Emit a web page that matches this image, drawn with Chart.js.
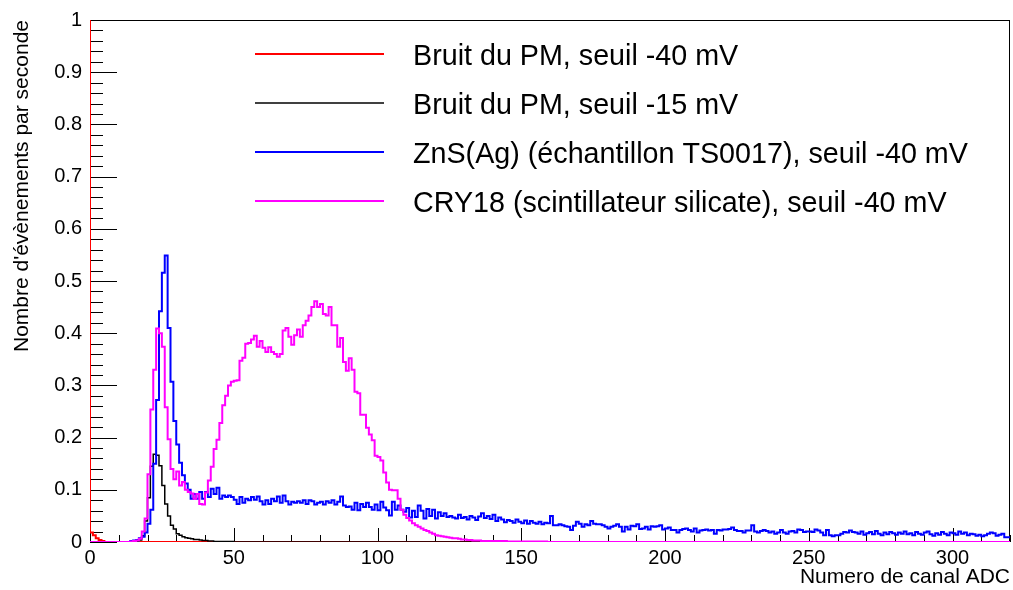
<!DOCTYPE html>
<html>
<head>
<meta charset="utf-8">
<script src="https://cdn.jsdelivr.net/npm/chart.js@4.4.1/dist/chart.umd.min.js"></script>
<style>
  body { margin: 0; background: #fff; }
</style>
</head>
<body>
<canvas id="spectre" width="1013" height="590"></canvas>
<script>
// ADC spectra, one value per channel (bin width = 1 channel, 320 channels)
const xTickValues = [0, 50, 100, 150, 200, 250, 300];
const xTickLabels = ['0', '50', '100', '150', '200', '250', '300'];
const yTickValues = [0, 0.1, 0.2, 0.3, 0.4, 0.5, 0.6, 0.7, 0.8, 0.9, 1];
const yTickLabels = ['0', '0.1', '0.2', '0.3', '0.4', '0.5', '0.6', '0.7', '0.8', '0.9', '1'];

const seriesLabels = [
  'Bruit du PM, seuil -40 mV',
  'Bruit du PM, seuil -15 mV',
  'ZnS(Ag) (échantillon TS0017), seuil -40 mV',
  'CRY18 (scintillateur silicate), seuil -40 mV'
];

const bruit40 = [
  2.5, 0.018, 0.013, 0.007, 0.004, 0.002, 0, 0, 0, 0, 0, 0, 0, 0, 0, 0, 0, 0, 0, 0,
  0, 0, 0, 0, 0, 0, 0, 0, 0, 0, 0, 0, 0, 0, 0, 0, 0, 0, 0, 0,
  0, 0, 0, 0, 0, 0, 0, 0, 0, 0, 0, 0, 0, 0, 0, 0, 0, 0, 0, 0,
  0, 0, 0, 0, 0, 0, 0, 0, 0, 0, 0, 0, 0, 0, 0, 0, 0, 0, 0, 0,
  0, 0, 0, 0, 0, 0, 0, 0, 0, 0, 0, 0, 0, 0, 0, 0, 0, 0, 0, 0,
  0, 0, 0, 0, 0, 0, 0, 0, 0, 0, 0, 0, 0, 0, 0, 0, 0, 0, 0, 0,
  0, 0, 0, 0, 0, 0, 0, 0, 0, 0, 0, 0, 0, 0, 0, 0, 0, 0, 0, 0,
  0, 0, 0, 0, 0, 0, 0, 0, 0, 0, 0, 0, 0, 0, 0, 0, 0, 0, 0, 0,
  0, 0, 0, 0, 0, 0, 0, 0, 0, 0, 0, 0, 0, 0, 0, 0, 0, 0, 0, 0,
  0, 0, 0, 0, 0, 0, 0, 0, 0, 0, 0, 0, 0, 0, 0, 0, 0, 0, 0, 0,
  0, 0, 0, 0, 0, 0, 0, 0, 0, 0, 0, 0, 0, 0, 0, 0, 0, 0, 0, 0,
  0, 0, 0, 0, 0, 0, 0, 0, 0, 0, 0, 0, 0, 0, 0, 0, 0, 0, 0, 0,
  0, 0, 0, 0, 0, 0, 0, 0, 0, 0, 0, 0, 0, 0, 0, 0, 0, 0, 0, 0,
  0, 0, 0, 0, 0, 0, 0, 0, 0, 0, 0, 0, 0, 0, 0, 0, 0, 0, 0, 0,
  0, 0, 0, 0, 0, 0, 0, 0, 0, 0, 0, 0, 0, 0, 0, 0, 0, 0, 0, 0,
  0, 0, 0, 0, 0, 0, 0, 0, 0, 0, 0, 0, 0, 0, 0, 0, 0, 0, 0, 0
];

const bruit15 = [
  0, 0, 0, 0, 0, 0, 0, 0, 0, 0, 0, 0, 0, 0, 0, 0, 0, 0, 0.004, 0.012,
  0.04, 0.085, 0.145, 0.168, 0.166, 0.146, 0.108, 0.073, 0.05, 0.032, 0.025, 0.016, 0.013, 0.01, 0.008, 0.007, 0.006, 0.005, 0.005, 0.004,
  0.003, 0.003, 0.002, 0.002, 0.001, 0.001, 0.001, 0.001, 0.001, 0.001, 0.001, 0, 0, 0, 0, 0, 0, 0, 0, 0,
  0, 0, 0, 0, 0, 0, 0, 0, 0, 0, 0, 0, 0, 0, 0, 0, 0, 0, 0, 0,
  0, 0, 0, 0, 0, 0, 0, 0, 0, 0, 0, 0, 0, 0, 0, 0, 0, 0, 0, 0,
  0, 0, 0, 0, 0, 0, 0, 0, 0, 0, 0, 0, 0, 0, 0, 0, 0, 0, 0, 0,
  0, 0, 0, 0, 0, 0, 0, 0, 0, 0, 0, 0, 0, 0, 0, 0, 0, 0, 0, 0,
  0, 0, 0, 0, 0, 0, 0, 0, 0, 0, 0, 0, 0, 0, 0, 0, 0, 0, 0, 0,
  0, 0, 0, 0, 0, 0, 0, 0, 0, 0, 0, 0, 0, 0, 0, 0, 0, 0, 0, 0,
  0, 0, 0, 0, 0, 0, 0, 0, 0, 0, 0, 0, 0, 0, 0, 0, 0, 0, 0, 0,
  0, 0, 0, 0, 0, 0, 0, 0, 0, 0, 0, 0, 0, 0, 0, 0, 0, 0, 0, 0,
  0, 0, 0, 0, 0, 0, 0, 0, 0, 0, 0, 0, 0, 0, 0, 0, 0, 0, 0, 0,
  0, 0, 0, 0, 0, 0, 0, 0, 0, 0, 0, 0, 0, 0, 0, 0, 0, 0, 0, 0,
  0, 0, 0, 0, 0, 0, 0, 0, 0, 0, 0, 0, 0, 0, 0, 0, 0, 0, 0, 0,
  0, 0, 0, 0, 0, 0, 0, 0, 0, 0, 0, 0, 0, 0, 0, 0, 0, 0, 0, 0,
  0, 0, 0, 0, 0, 0, 0, 0, 0, 0, 0, 0, 0, 0, 0, 0, 0, 0, 0, 0
];

const znsAg = [
  0, 0, 0, 0, 0, 0, 0, 0, 0, 0, 0, 0, 0, 0, 0, 0.002, 0.003, 0.004, 0.007, 0.01,
  0.018, 0.035, 0.062, 0.15, 0.272, 0.442, 0.516, 0.549, 0.41, 0.307, 0.232, 0.187, 0.152, 0.128, 0.112, 0.1, 0.083, 0.092, 0.083, 0.096,
  0.083, 0.096, 0.086, 0.102, 0.092, 0.104, 0.083, 0.089, 0.086, 0.089, 0.086, 0.081, 0.073, 0.086, 0.075, 0.083, 0.08, 0.086, 0.081, 0.087,
  0.078, 0.072, 0.08, 0.073, 0.083, 0.078, 0.087, 0.075, 0.089, 0.078, 0.072, 0.077, 0.075, 0.078, 0.075, 0.08, 0.073, 0.08, 0.078, 0.072,
  0.075, 0.077, 0.072, 0.078, 0.075, 0.08, 0.072, 0.077, 0.087, 0.07, 0.067, 0.068, 0.062, 0.075, 0.061, 0.073, 0.067, 0.075, 0.067, 0.062,
  0.072, 0.061, 0.077, 0.066, 0.061, 0.051, 0.077, 0.062, 0.07, 0.062, 0.058, 0.065, 0.047, 0.06, 0.048, 0.07, 0.06, 0.045, 0.063, 0.05,
  0.062, 0.045, 0.057, 0.05, 0.055, 0.048, 0.05, 0.047, 0.045, 0.052, 0.046, 0.048, 0.043, 0.05, 0.047, 0.042, 0.049, 0.055, 0.046, 0.05,
  0.044, 0.052, 0.04, 0.047, 0.043, 0.038, 0.042, 0.04, 0.037, 0.043, 0.039, 0.036, 0.041, 0.035, 0.04, 0.037, 0.035, 0.039, 0.034, 0.037,
  0.036, 0.05, 0.032, 0.032, 0.034, 0.032, 0.03, 0.029, 0.023, 0.031, 0.039, 0.035, 0.029, 0.034, 0.032, 0.04, 0.035, 0.034, 0.034, 0.032,
  0.029, 0.026, 0.029, 0.031, 0.034, 0.029, 0.02, 0.029, 0.024, 0.031, 0.03, 0.034, 0.025, 0.026, 0.029, 0.024, 0.03, 0.029, 0.03, 0.032,
  0.024, 0.026, 0.028, 0.023, 0.023, 0.018, 0.023, 0.025, 0.026, 0.023, 0.02, 0.026, 0.018, 0.022, 0.023, 0.024, 0.022, 0.023, 0.016, 0.023,
  0.022, 0.024, 0.024, 0.025, 0.028, 0.023, 0.021, 0.021, 0.018, 0.022, 0.022, 0.032, 0.02, 0.018, 0.021, 0.023, 0.021, 0.018, 0.02, 0.016,
  0.018, 0.023, 0.018, 0.016, 0.02, 0.021, 0.018, 0.024, 0.023, 0.019, 0.02, 0.02, 0.019, 0.024, 0.022, 0.018, 0.013, 0.023, 0.013, 0.011,
  0.013, 0.013, 0.016, 0.019, 0.018, 0.022, 0.019, 0.018, 0.016, 0.02, 0.014, 0.017, 0.019, 0.015, 0.021, 0.016, 0.013, 0.018, 0.015, 0.019,
  0.017, 0.014, 0.018, 0.016, 0.02, 0.015, 0.017, 0.013, 0.019, 0.016, 0.014, 0.018, 0.02, 0.015, 0.012, 0.017, 0.014, 0.019, 0.016, 0.013,
  0.018, 0.017, 0.014, 0.02, 0.016, 0.018, 0.013, 0.016, 0.015, 0.012, 0.014, 0.011, 0.013, 0.016, 0.018, 0.017, 0.012, 0.014, 0.016, 0.009
];

const cry18 = [
  0, 0, 0, 0, 0, 0, 0, 0, 0, 0, 0, 0, 0, 0, 0, 0.001, 0.002, 0.003, 0.006, 0.02,
  0.045, 0.13, 0.254, 0.33, 0.409, 0.4, 0.374, 0.258, 0.197, 0.14, 0.12, 0.135, 0.108, 0.115, 0.1, 0.096, 0.093, 0.083, 0.092, 0.073,
  0.072, 0.095, 0.118, 0.144, 0.178, 0.196, 0.228, 0.262, 0.28, 0.3, 0.307, 0.309, 0.31, 0.347, 0.353, 0.38, 0.381, 0.388, 0.395, 0.374,
  0.385, 0.372, 0.364, 0.373, 0.364, 0.36, 0.355, 0.36, 0.405, 0.41, 0.393, 0.378, 0.396, 0.407, 0.393, 0.415, 0.424, 0.434, 0.45, 0.461,
  0.45, 0.456, 0.437, 0.434, 0.45, 0.415, 0.415, 0.374, 0.391, 0.345, 0.328, 0.352, 0.33, 0.288, 0.285, 0.244, 0.244, 0.219, 0.206, 0.195,
  0.165, 0.163, 0.156, 0.133, 0.114, 0.1, 0.099, 0.099, 0.083, 0.062, 0.052, 0.046, 0.041, 0.036, 0.032, 0.029, 0.026, 0.023, 0.021, 0.018,
  0.016, 0.013, 0.012, 0.011, 0.01, 0.009, 0.008, 0.007, 0.007, 0.006, 0.005, 0.005, 0.004, 0.004, 0.003, 0.003, 0.003, 0.002, 0.002, 0.002,
  0.002, 0.002, 0.002, 0.002, 0.002, 0.002, 0.001, 0.001, 0.001, 0.001, 0.001, 0.001, 0.001, 0.001, 0.001, 0.001, 0.001, 0.001, 0.001, 0.001,
  0, 0, 0, 0, 0, 0, 0, 0, 0, 0, 0, 0, 0, 0, 0, 0, 0, 0, 0, 0,
  0, 0, 0, 0, 0, 0, 0, 0, 0, 0, 0, 0, 0, 0, 0, 0, 0, 0, 0, 0,
  0, 0, 0, 0, 0, 0, 0, 0, 0, 0, 0, 0, 0, 0, 0, 0, 0, 0, 0, 0,
  0, 0, 0, 0, 0, 0, 0, 0, 0, 0, 0, 0, 0, 0, 0, 0, 0, 0, 0, 0,
  0, 0, 0, 0, 0, 0, 0, 0, 0, 0, 0, 0, 0, 0, 0, 0, 0, 0, 0, 0,
  0, 0, 0, 0, 0, 0, 0, 0, 0, 0, 0, 0, 0, 0, 0, 0, 0, 0, 0, 0,
  0, 0, 0, 0, 0, 0, 0, 0, 0, 0, 0, 0, 0, 0, 0, 0, 0, 0, 0, 0,
  0, 0, 0, 0, 0, 0, 0, 0, 0, 0, 0, 0, 0, 0, 0, 0, 0, 0, 0, 0
];

const FONT = '"Liberation Sans", Arial, Helvetica, sans-serif';

// each bin is drawn from its low edge to the next one
function toSteps(values) {
  const pts = values.map((v, i) => ({x: i, y: v}));
  pts.push({x: values.length, y: values[values.length - 1]});
  return pts;
}

function histo(label, values, color, width, order) {
  return {
    label: label,
    data: toSteps(values),
    borderColor: color,
    backgroundColor: color,
    borderWidth: width,
    stepped: 'after',
    pointRadius: 0,
    fill: false,
    order: order
  };
}

// frame + inward tick marks, drawn under the histograms
const frameTicks = {
  id: 'frameTicks',
  beforeDatasetsDraw(chart) {
    const {ctx, chartArea: a, scales: {x, y}} = chart;
    ctx.save();
    ctx.strokeStyle = '#000';
    ctx.lineWidth = 1;
    ctx.strokeRect(a.left + 0.5, a.top + 0.5, a.right - a.left - 1, a.bottom - a.top - 1);
    ctx.beginPath();
    for (let v = 0; v <= 320; v += 10) {
      const px = Math.round(x.getPixelForValue(v)) + 0.5;
      const len = v % 50 === 0 ? 14 : 7;
      ctx.moveTo(px, a.bottom);
      ctx.lineTo(px, a.bottom - len);
    }
    for (let k = 0; k <= 50; k++) {
      const py = Math.round(y.getPixelForValue(k / 50)) + 0.5;
      const len = k % 5 === 0 ? 27 : 13;
      ctx.moveTo(a.left, py);
      ctx.lineTo(a.left + len, py);
    }
    ctx.stroke();
    ctx.restore();
  }
};

// legend without a box, in the upper part of the frame
const histLegend = {
  id: 'histLegend',
  afterDatasetsDraw(chart) {
    const ctx = chart.ctx;
    ctx.save();
    ctx.font = '28.7px ' + FONT;
    ctx.fillStyle = '#000';
    ctx.textBaseline = 'alphabetic';
    chart.data.datasets.forEach((ds, i) => {
      const yy = 54 + i * 49;
      ctx.strokeStyle = ds.borderColor;
      ctx.lineWidth = ds.borderWidth;
      ctx.beginPath();
      ctx.moveTo(255, yy);
      ctx.lineTo(384, yy);
      ctx.stroke();
      ctx.fillText(ds.label, 413, yy + 11);
    });
    ctx.restore();
  }
};

const ctx = document.getElementById('spectre').getContext('2d');

new Chart(ctx, {
  type: 'line',
  data: {
    datasets: [
      histo(seriesLabels[0], bruit40, '#ff0000', 2, 4),
      histo(seriesLabels[1], bruit15, '#000000', 1.5, 3),
      histo(seriesLabels[2], znsAg, '#0000ff', 2, 2),
      histo(seriesLabels[3], cry18, '#ff00ff', 2, 1)
    ]
  },
  options: {
    responsive: false,
    animation: false,
    layout: {padding: {top: 15, right: 3, left: 0, bottom: 0}},
    plugins: {
      legend: {display: false},
      tooltip: {enabled: false}
    },
    scales: {
      x: {
        type: 'linear',
        min: 0,
        max: 320,
        grid: {display: false, drawTicks: false},
        border: {display: false},
        afterBuildTicks: s => { s.ticks = xTickValues.map(v => ({value: v})); },
        afterFit: s => { s.height = 48; },
        ticks: {
          padding: 4,
          maxRotation: 0,
          color: '#000',
          font: {family: FONT, size: 20},
          callback: (v, i) => xTickLabels[i]
        },
        title: {
          display: true,
          text: 'Numero de canal ADC',
          align: 'end',
          color: '#000',
          font: {family: FONT, size: 21},
          padding: {top: 0, bottom: 0}
        }
      },
      y: {
        type: 'linear',
        min: 0,
        max: 1,
        grid: {display: false, drawTicks: false},
        border: {display: false},
        afterBuildTicks: s => { s.ticks = yTickValues.map(v => ({value: v})); },
        afterFit: s => { s.width = 90; },
        ticks: {
          padding: 8,
          color: '#000',
          font: {family: FONT, size: 20},
          callback: (v, i) => yTickLabels[i]
        },
        title: {
          display: true,
          text: "Nombre d'évènements par seconde",
          align: 'end',
          color: '#000',
          font: {family: FONT, size: 21},
          padding: {top: 10, bottom: 0}
        }
      }
    }
  },
  plugins: [frameTicks, histLegend]
});
</script>
</body>
</html>
